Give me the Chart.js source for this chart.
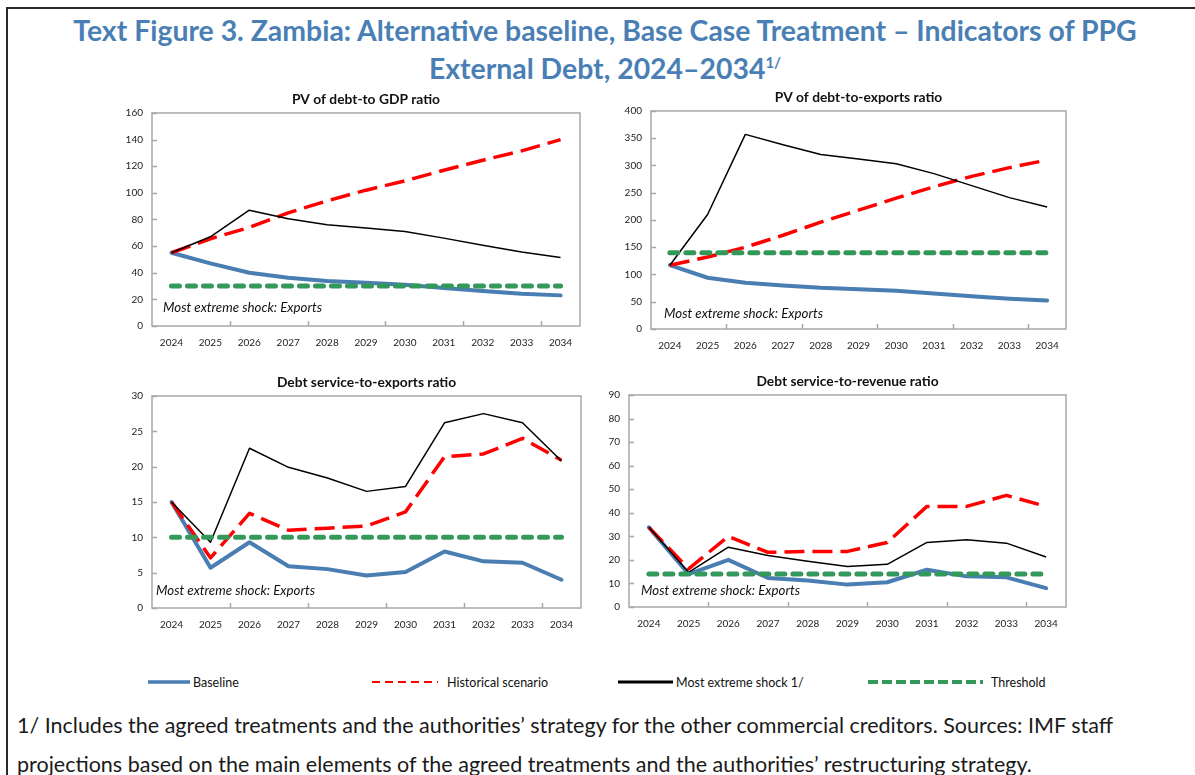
<!DOCTYPE html>
<html>
<head>
<meta charset="utf-8">
<script src="https://cdn.jsdelivr.net/npm/chart.js@4/dist/chart.umd.min.js"></script>
<style>
  html, body { margin: 0; padding: 0; background: #fff; }
  body { width: 1195px; height: 775px; position: relative; overflow: hidden; font-family: Lato, sans-serif; }
  .frame { position: absolute; left: 6px; top: 7px; width: 1300px; height: 900px; border-left: 2px solid #2a2a2a; border-top: 2px solid #2a2a2a; }
  .title { position: absolute; left: 10px; top: 11px; width: 1190px; text-align: center; color: #4a7fb5; font: bold 28.4px Lato, sans-serif; line-height: 38px; }
  .title sup { font-size: 15px; line-height: 0; vertical-align: 11px; }
  canvas { position: absolute; }
  .legend { position: absolute; top: 674px; font: 12.5px Lato, sans-serif; color: #111; }
  .legend span { position: absolute; top: 1px; white-space: nowrap; }
  .legend svg { position: absolute; top: 0; }
  .note { position: absolute; left: 17px; top: 706px; width: 1180px; font: 21.5px Lato, sans-serif; line-height: 39px; color: #1a1a1a; white-space: nowrap; }
</style>
</head>
<body>
<div class="frame"></div>
<div class="title">Text Figure 3. Zambia: Alternative baseline, Base Case Treatment – Indicators of PPG<br>External Debt, 2024–2034<sup>1/</sup></div>
<canvas id="c1"></canvas>
<canvas id="c2"></canvas>
<canvas id="c3"></canvas>
<canvas id="c4"></canvas>
<div class="legend" id="legend"></div>
<div class="note">1/ Includes the agreed treatments and the authorities’ strategy for the other commercial creditors. Sources: IMF staff<br>projections based on the main elements of the agreed treatments and the authorities’ restructuring strategy.</div>
<script>
var years = ["2024", "2025", "2026", "2027", "2028", "2029", "2030", "2031", "2032", "2033", "2034"];
var legendLabels = ["Baseline", "Historical scenario", "Most extreme shock 1/", "Threshold"];

// PV of debt-to GDP ratio
var gdpBaseline = [55, 47, 40, 36.3, 33.8, 32.5, 31, 28.5, 26.3, 24.3, 23];
var gdpHistorical = [55, 65.5, 74, 85, 94, 102, 109, 117, 124.5, 131.5, 140];
var gdpShock = [55, 67, 87, 80.5, 76, 73.6, 71, 66, 60.6, 55.6, 51.5];
var gdpThreshold = [30, 30, 30, 30, 30, 30, 30, 30, 30, 30, 30];

// PV of debt-to-exports ratio
var expBaseline = [117, 94, 85, 80, 75.5, 73, 70, 65, 60, 55.5, 52.5];
var expHistorical = [117, 132, 150, 172, 196, 218, 240, 261, 280, 296, 310];
var expShock = [117, 210, 357, 338, 320, 312, 303, 285, 263, 241, 224];
var expThreshold = [140, 140, 140, 140, 140, 140, 140, 140, 140, 140, 140];

// Debt service-to-exports ratio
var dsxBaseline = [15, 5.7, 9.3, 5.9, 5.5, 4.6, 5.1, 8, 6.6, 6.4, 4];
var dsxHistorical = [15, 7.1, 13.4, 11, 11.3, 11.6, 13.6, 21.4, 21.8, 24, 20.9];
var dsxShock = [15, 9.3, 22.6, 19.9, 18.4, 16.5, 17.2, 26.2, 27.5, 26.2, 20.8];
var dsxThreshold = [10, 10, 10, 10, 10, 10, 10, 10, 10, 10, 10];

// Debt service-to-revenue ratio
var dsrBaseline = [33.8, 14, 20, 12.3, 11.2, 9.5, 10.5, 15.8, 13, 12.6, 8];
var dsrHistorical = [33.8, 16.2, 30, 23.2, 23.6, 23.6, 27.4, 42.7, 42.7, 47.4, 42.7];
var dsrShock = [33.8, 14.7, 25.4, 21.9, 19.4, 17.2, 18.1, 27.4, 28.5, 27.1, 21.2];
var dsrThreshold = [14, 14, 14, 14, 14, 14, 14, 14, 14, 14, 14];

var noteText = "Most extreme shock: Exports";

var styles = [
    { color: "#4a7db2", width: 4, dash: [], cap: "round", order: 4 },
    { color: "#ff0000", width: 3.5, dash: [20, 8], cap: "butt", order: 3 },
    { color: "#000000", width: 1.5, dash: [], cap: "butt", order: 2 },
    { color: "#33995a", width: 5, dash: [8, 8], cap: "round", order: 1 }
];
var tickFont = { family: "Lato, sans-serif", size: 10 };

// draws the grey plot box, the inward tick marks and the corner note
var boxPlugin = {
    id: "box",
    beforeDatasetsDraw(chart, args, opts) {
        var a = chart.chartArea, ctx = chart.ctx, x = chart.scales.x, y = chart.scales.y;
        ctx.save();
        ctx.strokeStyle = "#a8a8a8";
        ctx.lineWidth = 1.5;
        ctx.strokeRect(a.left, a.top, a.right - a.left, a.bottom - a.top);
        ctx.beginPath();
        y.ticks.forEach(function (t) {
            var py = Math.round(y.getPixelForValue(t.value)) + 0.5;
            ctx.moveTo(a.left, py);
            ctx.lineTo(a.left + 5, py);
        });
        for (var i = 1; i < years.length - 1; i += 2) {
            var px = Math.round((x.getPixelForValue(i) + x.getPixelForValue(i + 1)) / 2) + 0.5;
            ctx.moveTo(px, a.bottom);
            ctx.lineTo(px, a.bottom - 5);
        }
        ctx.stroke();
        ctx.fillStyle = "#111";
        ctx.font = "italic 13.3px Lato, sans-serif";
        ctx.textBaseline = "middle";
        ctx.fillText(noteText, a.left + opts.dx, a.bottom - opts.dy);
        ctx.restore();
    }
};

function makePanel(id, box, title, yMax, yStep, series, note) {
    var cv = document.getElementById(id);
    var w = box.R - box.L + 54, h = box.B - box.T + 54;
    cv.width = w; cv.height = h;
    cv.style.left = (box.L - 50) + "px";
    cv.style.top = (box.T - 24) + "px";
    cv.style.width = w + "px";
    cv.style.height = h + "px";
    var datasets = series.map(function (d, i) {
        var s = styles[i];
        return { label: legendLabels[i], data: d, borderColor: s.color, backgroundColor: s.color, borderWidth: s.width,
            borderDash: s.dash, borderCapStyle: s.cap, borderJoinStyle: "round", order: s.order, pointRadius: 0, tension: 0, fill: false };
    });
    return new Chart(cv, {
        type: "line",
        data: { labels: years, datasets: datasets },
        options: {
            responsive: false,
            animation: false,
            devicePixelRatio: 1,
            layout: { padding: { left: 0, right: 4, top: 0, bottom: 0 } },
            plugins: {
                legend: { display: false },
                tooltip: { enabled: false },
                title: { display: true, fullSize: false, text: title, color: "#111", font: { family: "Lato, sans-serif", size: 13.8, weight: "bold", lineHeight: 1.2 }, padding: { top: 2, bottom: 5.4 } },
                box: note
            },
            scales: {
                x: {
                    offset: true,
                    grid: { display: false, drawTicks: false },
                    border: { display: false },
                    ticks: { autoSkip: false, maxRotation: 0, padding: 11, color: "#222", font: tickFont },
                    afterFit: function (s) { s.height = 30; }
                },
                y: {
                    min: 0, max: yMax,
                    grid: { display: false, drawTicks: false },
                    border: { display: false },
                    ticks: { stepSize: yStep, padding: 9, color: "#222", font: tickFont },
                    afterFit: function (s) { s.width = 50; }
                }
            }
        },
        plugins: [boxPlugin]
    });
}

makePanel("c1", { L: 152, R: 580, T: 113, B: 326 }, "PV of debt-to GDP ratio", 160, 20,
    [gdpBaseline, gdpHistorical, gdpShock, gdpThreshold], { dx: 11, dy: 18 });
makePanel("c2", { L: 651, R: 1066, T: 111, B: 329 }, "PV of debt-to-exports ratio", 400, 50,
    [expBaseline, expHistorical, expShock, expThreshold], { dx: 13, dy: 15 });
makePanel("c3", { L: 152, R: 581, T: 396, B: 608 }, "Debt service-to-exports ratio", 30, 5,
    [dsxBaseline, dsxHistorical, dsxShock, dsxThreshold], { dx: 4, dy: 17 });
makePanel("c4", { L: 629, R: 1066, T: 395, B: 607 }, "Debt service-to-revenue ratio", 90, 10,
    [dsrBaseline, dsrHistorical, dsrShock, dsrThreshold], { dx: 12, dy: 16 });

// legend: sample line + label for each series
var legendPos = [
    { x1: 148, x2: 190, tx: 193, dash: "", w: 3.5 },
    { x1: 372, x2: 438, tx: 447, dash: "8 5", w: 2 },
    { x1: 618, x2: 673, tx: 676, dash: "", w: 3 },
    { x1: 868, x2: 983, tx: 991, dash: "10 4", w: 4 }
];
var lg = document.getElementById("legend");
legendPos.forEach(function (p, i) {
    var len = p.x2 - p.x1;
    lg.insertAdjacentHTML("beforeend",
        '<svg style="left:' + p.x1 + 'px" width="' + len + '" height="16"><line x1="0" y1="8" x2="' + len + '" y2="8" stroke="' + styles[i].color +
        '" stroke-width="' + p.w + '" stroke-dasharray="' + p.dash + '"/></svg>' +
        '<span style="left:' + p.tx + 'px">' + legendLabels[i] + "</span>");
});
</script>
</body>
</html>
